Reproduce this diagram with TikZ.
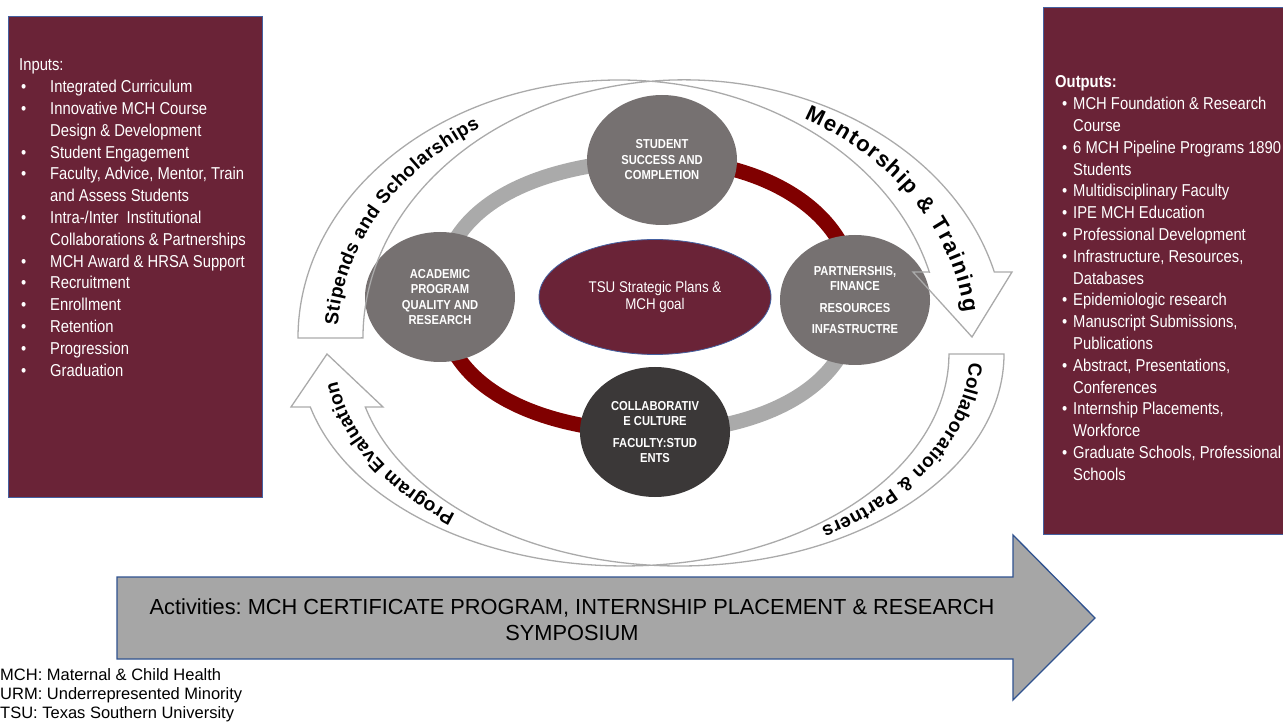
\documentclass[tikz,border=0pt]{standalone}
\usepackage{fontspec}
\setmainfont{Liberation Sans}
\newfontfamily\narrowfont[FakeStretch=0.86]{Liberation Sans}
\usetikzlibrary{shapes.geometric,decorations.text}
\pgfdeclarelayer{background}
\pgfsetlayers{background,main}
\definecolor{tsumaroon}{RGB}{106,35,55}
\definecolor{boxblue}{RGB}{68,96,160}
\definecolor{stagegray}{RGB}{118,113,113}
\definecolor{stagedark}{RGB}{59,56,56}
\definecolor{ringgray}{RGB}{170,170,170}
\definecolor{ringred}{RGB}{128,0,0}
\definecolor{bandgray}{RGB}{170,170,170}
\definecolor{actgray}{RGB}{166,166,166}
\definecolor{actblue}{RGB}{47,82,143}
\newcommand{\arcfont}{\fontsize{19}{21}\selectfont\bfseries}
\newcommand{\bigarcfont}{\fontsize{22}{24}\selectfont\bfseries}
\frenchspacing
\begin{document}
\begin{tikzpicture}[x=1pt,y=1pt,
	box/.style={draw=boxblue,line width=1pt,fill=tsumaroon,inner sep=0pt,anchor=south west},
	listtext/.style={text=white,inner sep=0pt,anchor=base west,font=\narrowfont\fontsize{17.2}{21.8}\selectfont},
	stage/.style={ellipse,fill=stagegray,text=white,inner sep=0pt,minimum width=150pt,minimum height=130pt,align=center,font=\narrowfont\bfseries\fontsize{13}{15.5}\selectfont},
	ringlight/.style={line width=15pt,draw=ringgray},
	ringdark/.style={line width=15pt,draw=ringred},
	band/.style={draw=bandgray,line width=1.3pt,line join=miter},
	arclabel/.style={decorate,decoration={text along path,text align=fit to path,raise=-7pt}}]
	\useasboundingbox (0,0) rectangle (1283,724);
	\node[box,minimum width=254pt,minimum height=481pt] (inbox) at (8,226) {};
	\node[box,minimum width=250pt,minimum height=527pt] (outbox) at (1043,189) {};
	\node[listtext] (inlist) at (19,653) {\begin{tabular}[t]{@{}p{31pt}@{}l@{}}
		\multicolumn{2}{@{}l@{}}{Inputs:}\\
		\hspace*{2pt}\textbullet & Integrated Curriculum\\
		\hspace*{2pt}\textbullet & Innovative MCH Course\\
		& Design \& Development\\
		\hspace*{2pt}\textbullet & Student Engagement\\
		\hspace*{2pt}\textbullet & Faculty, Advice, Mentor, Train\\
		& and Assess Students\\
		\hspace*{2pt}\textbullet & Intra-/Inter\ \ Institutional\\
		& Collaborations \& Partnerships\\
		\hspace*{2pt}\textbullet & MCH Award \& HRSA Support\\
		\hspace*{2pt}\textbullet & Recruitment\\
		\hspace*{2pt}\textbullet & Enrollment\\
		\hspace*{2pt}\textbullet & Retention\\
		\hspace*{2pt}\textbullet & Progression\\
		\hspace*{2pt}\textbullet & Graduation
		\end{tabular}};
	\node[listtext] (outlist) at (1055,636) {\begin{tabular}[t]{@{}p{18pt}@{}l@{}}
		\multicolumn{2}{@{}l@{}}{\bfseries Outputs:}\\
		\hspace*{7pt}\textbullet & MCH Foundation \& Research\\
		& Course\\
		\hspace*{7pt}\textbullet & 6 MCH Pipeline Programs 1890\\
		& Students\\
		\hspace*{7pt}\textbullet & Multidisciplinary Faculty\\
		\hspace*{7pt}\textbullet & IPE MCH Education\\
		\hspace*{7pt}\textbullet & Professional Development\\
		\hspace*{7pt}\textbullet & Infrastructure, Resources,\\
		& Databases\\
		\hspace*{7pt}\textbullet & Epidemiologic research\\
		\hspace*{7pt}\textbullet & Manuscript Submissions,\\
		& Publications\\
		\hspace*{7pt}\textbullet & Abstract, Presentations,\\
		& Conferences\\
		\hspace*{7pt}\textbullet & Internship Placements,\\
		& Workforce\\
		\hspace*{7pt}\textbullet & Graduate Schools, Professional\\
		& Schools
		\end{tabular}};
	\draw[fill=actgray,draw=actblue,line width=1.3pt] (117,147) -- (1013,147) -- (1013,189) -- (1095,106) -- (1013,24) -- (1013,65) -- (117,65) -- cycle;
	\node[align=center,inner sep=0pt,font=\fontsize{21.8}{26}\selectfont] (act) at (572,104) {Activities: MCH CERTIFICATE PROGRAM, INTERNSHIP PLACEMENT \& RESEARCH\\SYMPOSIUM};
	\node[align=left,inner sep=0pt,anchor=north west,font=\fontsize{16.5}{19}\selectfont] (legend) at (0,56) {MCH: Maternal \& Child Health\\URM: Underrepresented Minority\\TSU: Texas Southern University};
	\node[stage] (stud) at (662,564) {STUDENT\\SUCCESS AND\\COMPLETION};
	\node[stage] (acad) at (440,427) {ACADEMIC\\PROGRAM\\QUALITY AND\\RESEARCH};
	\node[stage] (part) at (855,424) {PARTNERSHIS,\\FINANCE\\[6pt]RESOURCES\\[6pt]INFASTRUCTRE};
	\node[stage,fill=stagedark] (coll) at (655,292) {COLLABORATIV\\E CULTURE\\[6pt]FACULTY:STUD\\ENTS};
	\node[ellipse,fill=tsumaroon,draw=boxblue,line width=0.8pt,text=white,inner sep=0pt,minimum width=232pt,minimum height=115pt,align=center,font=\narrowfont\fontsize{15.5}{17}\selectfont] (tsu) at (655,427) {TSU Strategic Plans \&\\MCH goal};
	\begin{pgfonlayer}{background}
	\draw[ringlight] (acad.center) to[out=90,in=180] (stud.center);
	\draw[ringdark] (stud.center) to[out=0,in=90] (part.center);
	\draw[ringlight] (part.center) to[out=-90,in=0] (coll.center);
	\draw[ringdark] (coll.center) to[out=180,in=-90] (acad.center);
	\end{pgfonlayer}
	\draw[band] (298,386) arc[start angle=180,end angle=14.8,x radius=321,y radius=258] -- (913,452) -- (972,387) -- (1012,452) -- (994.3,452) arc[start angle=14.8,end angle=180,x radius=321,y radius=258] -- cycle;
	\draw[band] (1004,370) arc[start angle=0,end angle=-165.5,x radius=324.5,y radius=212] -- (383,317) -- (327,370) -- (291,317) -- (310.3,317) arc[start angle=-165.5,end angle=0,x radius=324.5,y radius=212] -- cycle;
	\path[arclabel,decoration={text={|\arcfont|Stipends and Scholarships}}] ([shift={(177:321 and 258)}]651.5,386) arc[start angle=177,end angle=123,x radius=321,y radius=258];
	\path[arclabel,decoration={text={|\bigarcfont|Mentorship {\&} Training}}] ([shift={(61:321 and 258)}]651.5,386) arc[start angle=61,end angle=6,x radius=321,y radius=258];
	\path[arclabel,decoration={text={|\arcfont|Collaboration {\&} Partners}}] ([shift={(-2.5:324.5 and 212)}]652,370) arc[start angle=-2.5,end angle=-58,x radius=324.5,y radius=212];
	\path[arclabel,decoration={text={|\arcfont|Program Evaluation}}] ([shift={(-128:324.5 and 212)}]652,370) arc[start angle=-128,end angle=-172,x radius=324.5,y radius=212];
\end{tikzpicture}
\end{document}
